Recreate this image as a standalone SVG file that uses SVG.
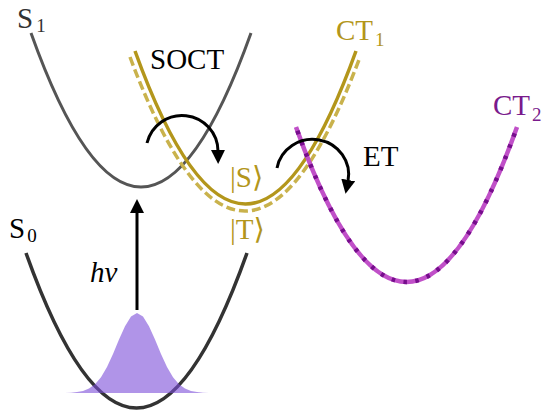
<svg xmlns="http://www.w3.org/2000/svg" width="547" height="418" viewBox="0 0 547 418">
<style>
  .lbl { font-size: 29px; font-family: "Liberation Serif", "DejaVu Serif", serif; }
  .sub { font-size: 19px; }
  .curve { fill: none; stroke-linecap: butt; }
  .arrow { fill: none; stroke: #000; stroke-width: 3; }
  .gold { fill: #b3961b; }
  .purple { fill: #7a1a8c; }
</style>
<defs>
  <marker id="ah" viewBox="0 0 14 14" refX="1" refY="7" markerWidth="14" markerHeight="14" markerUnits="userSpaceOnUse" orient="auto">
    <path d="M0,0 L14,7 L0,14 Z" fill="#000"/>
  </marker>
</defs>
<rect width="547" height="418" fill="#fff"/>

<g id="S0">
  <path class="curve" d="M26,253 Q136.5,563 247,253" stroke="#333" stroke-width="3.5"/>
  <text class="lbl" x="9" y="238" fill="#000">S<tspan class="sub" dx="2" dy="4">0</tspan></text>
</g>

<g id="wavepacket">
  <path d="M63,393 L65,392.9 L71,392.7 L77,392.1 L83,390.9 L89,388.5 L95,384.2 L101,377.2 L107,367 L113,354.1 L119,339.6 L125,326.2 L131,316.5 L137,313 L143,316.5 L149,326.2 L155,339.6 L161,354.1 L167,367 L173,377.2 L179,384.2 L185,388.5 L191,390.9 L197,392.1 L203,392.7 L209,392.9 L211,393 Z" fill="#7b4dd9" fill-opacity="0.6"/>
</g>

<g id="S1">
  <path class="curve" d="M31,33 Q141,341 251,33" stroke="#555" stroke-width="3"/>
  <text class="lbl" x="17" y="28" fill="#333">S<tspan class="sub" dx="3" dy="4">1</tspan></text>
</g>

<g id="CT1">
  <path class="curve" d="M130,57 Q245,365 360,57" stroke="#c9b24c" stroke-width="3.5" stroke-dasharray="9 4"/>
  <path class="curve" d="M135,51 Q245.5,357 356,51" stroke="#b3961b" stroke-width="3.5"/>
  <text class="lbl gold" x="336" y="40">CT<tspan class="sub" dx="2" dy="6">1</tspan></text>
  <text class="lbl gold" x="230" y="187" font-size="27">|S⟩</text>
  <text class="lbl gold" x="230" y="239" font-size="27">|T⟩</text>
</g>

<g id="CT2">
  <path class="curve" d="M296,127 Q406.5,437 517,127" stroke="#c050c8" stroke-width="4.5"/>
  <path class="curve" d="M296,127 Q406.5,437 517,127" stroke="#760d8c" stroke-width="4.5" stroke-dasharray="3.5 8.5" stroke-dashoffset="-4"/>
  <text class="lbl purple" x="493" y="115">CT<tspan class="sub" dx="2" dy="6">2</tspan></text>
</g>

<g id="connectors">
  <path class="arrow" d="M137,310 L137,212" marker-end="url(#ah)"/>
  <path class="arrow" d="M147,143 A36,36 0 0 1 218,151" marker-end="url(#ah)"/>
  <path class="arrow" d="M277,168 A36,35 0 0 1 348,181" marker-end="url(#ah)"/>
</g>

<g id="labels">
  <text class="lbl" x="90" y="282" font-style="italic" fill="#000">hν</text>
  <text class="lbl" x="150" y="69" font-size="31" fill="#000">SOCT</text>
  <text class="lbl" x="363" y="166" font-size="30" fill="#000">ET</text>
</g>
</svg>
